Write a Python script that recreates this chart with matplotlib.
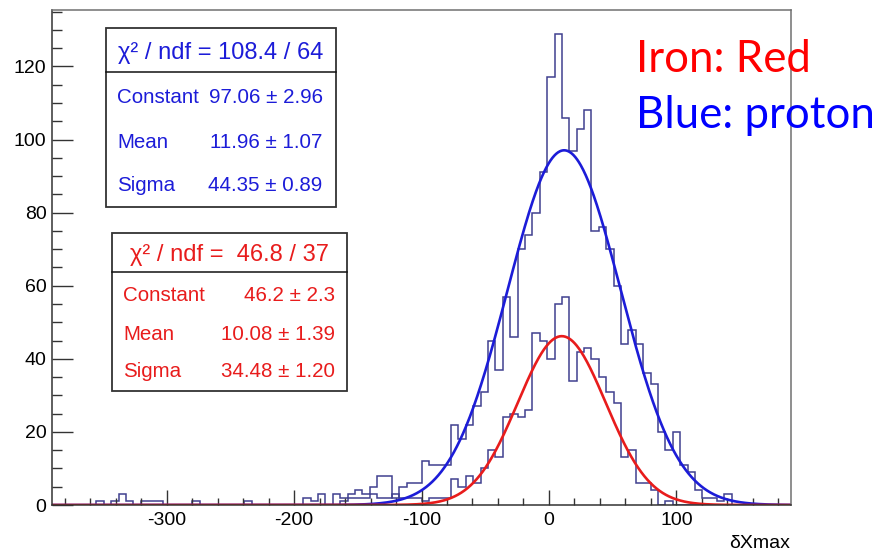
import numpy as np
import matplotlib.pyplot as plt
from matplotlib.patches import Rectangle
from matplotlib.lines import Line2D
from matplotlib.ticker import MultipleLocator

plt.rcParams['font.family'] = ['Liberation Sans', 'DejaVu Sans']
plt.rcParams['axes.unicode_minus'] = False

# histogram binning (100 bins, ROOT default)
x_lo, x_hi, n_bins = -390, 190, 100

# bin contents, bin 0 .. 99
proton_counts = [0, 0, 0, 0, 0, 0, 1, 0, 1, 3,
                 1, 0, 1, 1, 1, 0, 0, 0, 0, 1,
                 0, 0, 0, 0, 0, 0, 1, 0, 0, 0,
                 0, 0, 0, 0, 2, 1, 3, 0, 3, 2,
                 3, 4, 3, 5, 8, 8, 2, 5, 6, 6,
                 12, 11, 11, 11, 22, 18, 22, 27, 31, 45,
                 37, 57, 46, 70, 74, 80, 91, 117, 129, 106,
                 97, 103, 108, 75, 76, 70, 60, 44, 48, 44,
                 36, 33, 20, 15, 20, 11, 9, 4, 2, 2,
                 1, 3, 0, 0, 0, 0, 0, 0, 0, 0]
iron_counts = [0, 0, 0, 0, 0, 0, 0, 0, 0, 0,
               0, 0, 0, 0, 0, 0, 0, 0, 0, 0,
               0, 0, 0, 0, 0, 0, 0, 0, 0, 0,
               0, 0, 0, 0, 0, 0, 0, 0, 0, 1,
               2, 2, 2, 3, 2, 2, 3, 2, 2, 2,
               1, 2, 2, 2, 7, 5, 8, 6, 10, 15,
               13, 24, 25, 24, 26, 47, 45, 40, 55, 57,
               34, 42, 43, 40, 35, 31, 28, 13, 15, 6,
               6, 4, 0, 1, 0, 0, 0, 0, 0, 0,
               0, 0, 0, 0, 0, 0, 0, 0, 0, 0]

# gaussian fit results shown in the stat boxes
proton_fit = [97.06, 11.96, 44.35]
iron_fit = [46.2, 10.08, 34.48]
par_names = ['Constant', 'Mean', 'Sigma']
proton_par_txt = ['97.06 \u00b1 2.96', '11.96 \u00b1 1.07', '44.35 \u00b1 0.89']
iron_par_txt = ['46.2 \u00b1 2.3', '10.08 \u00b1 1.39', '34.48 \u00b1 1.20']
proton_chi2 = '\u03c7\u00b2 / ndf = 108.4 / 64'
iron_chi2 = '\u03c7\u00b2 / ndf =  46.8 / 37'

W, H = 881, 551
def fx(px):
    return px / W
def fy(py):
    return 1 - py / H

fig = plt.figure(figsize=(W / 100, H / 100), dpi=100)
ax = fig.add_axes([fx(52), fy(505), (791 - 52) / W, (505 - 10) / H])

edges = np.linspace(x_lo, x_hi, n_bins + 1)
hist_col = '#40408f'
ax.stairs(proton_counts, edges, color=hist_col, lw=1.1)
ax.stairs(iron_counts, edges, color=hist_col, lw=1.1)

def gaus(x, p):
    return p[0] * np.exp(-0.5 * ((x - p[1]) / p[2]) ** 2)

xf = np.linspace(x_lo, x_hi, 1200)
ax.plot(xf, gaus(xf, proton_fit), color='#1c1cd8', lw=1.9)
ax.plot(xf, gaus(xf, iron_fit), color='#e81c1c', lw=1.9)

ax.set_xlim(x_lo, x_hi)
ax.set_ylim(0, 129 * 1.05)

ax.xaxis.set_major_locator(MultipleLocator(100))
ax.xaxis.set_minor_locator(MultipleLocator(20))
ax.yaxis.set_major_locator(MultipleLocator(20))
ax.yaxis.set_minor_locator(MultipleLocator(5))
ax.tick_params(axis='x', which='major', direction='in', length=11, width=1, color='#333', labelsize=14, pad=5)
ax.tick_params(axis='x', which='minor', direction='in', length=5, width=1, color='#333')
ax.tick_params(axis='y', which='major', direction='in', length=15, width=1, color='#333', labelsize=14, pad=4)
ax.tick_params(axis='y', which='minor', direction='in', length=7.5, width=1, color='#333')
for s in ['left', 'bottom']:
    ax.spines[s].set_color('#333')
    ax.spines[s].set_linewidth(1.1)
for s in ['top', 'right']:
    ax.spines[s].set_color('#707070')
    ax.spines[s].set_linewidth(1.1)

fig.text(fx(790), fy(548), '\u03b4Xmax', ha='right', va='baseline', fontsize=14)

# stat boxes
def stat_box(x0, x1, y0, ydiv, y1, col, header, head_base, row_base, lab_x):
    fig.add_artist(Rectangle((fx(x0), fy(y1)), (x1 - x0) / W, (y1 - y0) / H,
                             transform=fig.transFigure, fc='white', ec='#333', lw=1.3, zorder=5))
    fig.add_artist(Line2D([fx(x0), fx(x1)], [fy(ydiv), fy(ydiv)], transform=fig.transFigure,
                          color='#111', lw=1.1, zorder=6))
    fig.text(fx((x0 + x1) / 2), fy(head_base), header, ha='center', va='baseline',
             fontsize=17, color=col, zorder=7)
    for i in range(3):
        fig.text(fx(lab_x), fy(row_base[i]), par_names[i], ha='left', va='baseline',
                 fontsize=14.8, color=col, zorder=7)

blue_rows = [103.3, 147.7, 191]
red_rows = [300.7, 340, 377.3]
stat_box(106, 336, 28, 72, 207, '#1c1cd8', proton_chi2, 58.5, blue_rows, 117.3)
stat_box(112, 347, 233, 272, 391, '#e81c1c', iron_chi2, 261.5, red_rows, 123.3)
for i in range(3):
    fig.text(fx(322.7), fy(blue_rows[i]), proton_par_txt[i], ha='right', va='baseline',
             fontsize=14.8, color='#1c1cd8', zorder=7)
    fig.text(fx(335), fy(red_rows[i]), iron_par_txt[i], ha='right', va='baseline',
             fontsize=14.8, color='#e81c1c', zorder=7)

# annotation
fig.text(fx(636), fy(71.7), 'Iron: Red', ha='left', va='baseline', fontsize=31.5,
         color='#ff0000', family=['Lato', 'DejaVu Sans'], zorder=7)
fig.text(fx(636), fy(128.3), 'Blue: proton', ha='left', va='baseline', fontsize=31.5,
         color='#0000ff', family=['Lato', 'DejaVu Sans'], zorder=7)

fig.savefig('out.png', dpi=100)
